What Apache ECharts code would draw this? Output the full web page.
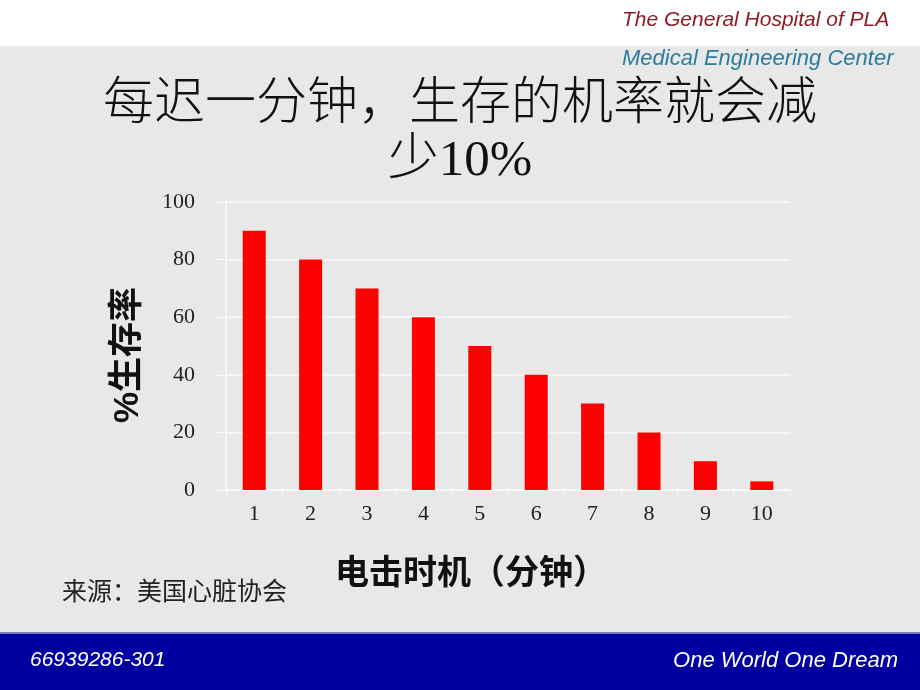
<!DOCTYPE html>
<html>
<head>
<meta charset="utf-8">
<script src="https://cdn.jsdelivr.net/npm/echarts@6/dist/echarts.min.js"></script>
<style>
  html, body { margin: 0; padding: 0; background: #e8e8e8; }
  #chart { width: 920px; height: 690px; }
</style>
</head>
<body>
<div id="chart"></div>
<script>
// data
var minutes = ['1', '2', '3', '4', '5', '6', '7', '8', '9', '10'];
var survival = [90, 80, 70, 60, 50, 40, 30, 20, 10, 3];
var yTicks = [0, 20, 40, 60, 80, 100];

var chart = echarts.init(document.getElementById('chart'));

var lineColor = '#fafafa';

chart.setOption({
  backgroundColor: '#e8e8e8',
  animation: false,
  graphic: [
    // white header strip
    { type: 'rect', left: 0, top: 0, shape: { width: 920, height: 46 }, style: { fill: '#ffffff' }, z: 0 },
    { type: 'text', left: 622, top: 10, style: { text: 'The General Hospital of PLA', fill: '#8e1c24', font: 'italic 21px "Liberation Sans", Arial' } },
    { type: 'text', left: 622, top: 48, style: { text: 'Medical Engineering Center', fill: '#2b7c9c', font: 'italic 22px "Liberation Sans", Arial' } },
    // title, two centred lines
    { type: 'text', left: 'center', top: 80, style: {
        text: '每迟一分钟，生存的机率就会减', fill: '#111',
        font: '300 51px "Liberation Serif", "Noto Sans CJK SC"' } },
    { type: 'text', left: 'center', top: 136, style: {
        text: '少10%', fill: '#111',
        font: '300 51px "Liberation Serif", "Noto Sans CJK SC"' } },
    // source note
    { type: 'text', left: 62, top: 578, style: { text: '来源：美国心脏协会', fill: '#222', font: '25px "Noto Sans CJK SC"' } },
    // footer band
    { type: 'rect', left: 0, top: 633, shape: { width: 920, height: 57 }, style: { fill: '#0000a0' }, z: 0 },
    { type: 'rect', left: 0, top: 632, shape: { width: 920, height: 2 }, style: { fill: '#7a7ac8' }, z: 0 },
    { type: 'text', left: 30, top: 650, style: { text: '66939286-301', fill: '#ffffff', font: 'italic 21px "Liberation Sans", Arial' } },
    { type: 'text', right: 22, top: 650, style: { text: 'One World One Dream', fill: '#ffffff', font: 'italic 22px "Liberation Sans", Arial' } }
  ],
  grid: { left: 226, right: 130, top: 202, bottom: 200 },
  xAxis: {
    type: 'category',
    data: minutes,
    name: '电击时机（分钟）',
    nameLocation: 'middle',
    nameGap: 64,
    nameTextStyle: { fontFamily: 'Noto Sans CJK SC', fontWeight: 'bold', fontSize: 34, color: '#111', padding: [0, 74, 0, 0] },
    axisLine: { lineStyle: { color: lineColor, width: 1.5 } },
    axisTick: { show: true, length: 5, lineStyle: { color: lineColor } },
    axisLabel: { fontFamily: 'Liberation Serif', fontSize: 22, color: '#222', margin: 13 }
  },
  yAxis: {
    type: 'value',
    min: 0, max: 100, interval: 20,
    name: '%生存率',
    nameLocation: 'middle',
    nameGap: 80,
    nameRotate: 90,
    nameTextStyle: { fontFamily: 'Liberation Sans, Noto Sans CJK SC', fontWeight: 'bold', fontSize: 35, color: '#111', padding: [0, 18, 0, 0] },
    axisLine: { show: true, lineStyle: { color: lineColor, width: 1.5 } },
    axisTick: { show: true, length: 10, lineStyle: { color: lineColor } },
    splitLine: { lineStyle: { color: lineColor, width: 1.5 } },
    axisLabel: {
      fontFamily: 'Liberation Serif', fontSize: 22, color: '#222', margin: 31,
      formatter: function (v) { return yTicks.indexOf(v) >= 0 ? String(v) : ''; }
    }
  },
  series: [{
    type: 'bar',
    data: survival,
    barWidth: 23,
    itemStyle: { color: '#ff0000' }
  }]
});
</script>
</body>
</html>
